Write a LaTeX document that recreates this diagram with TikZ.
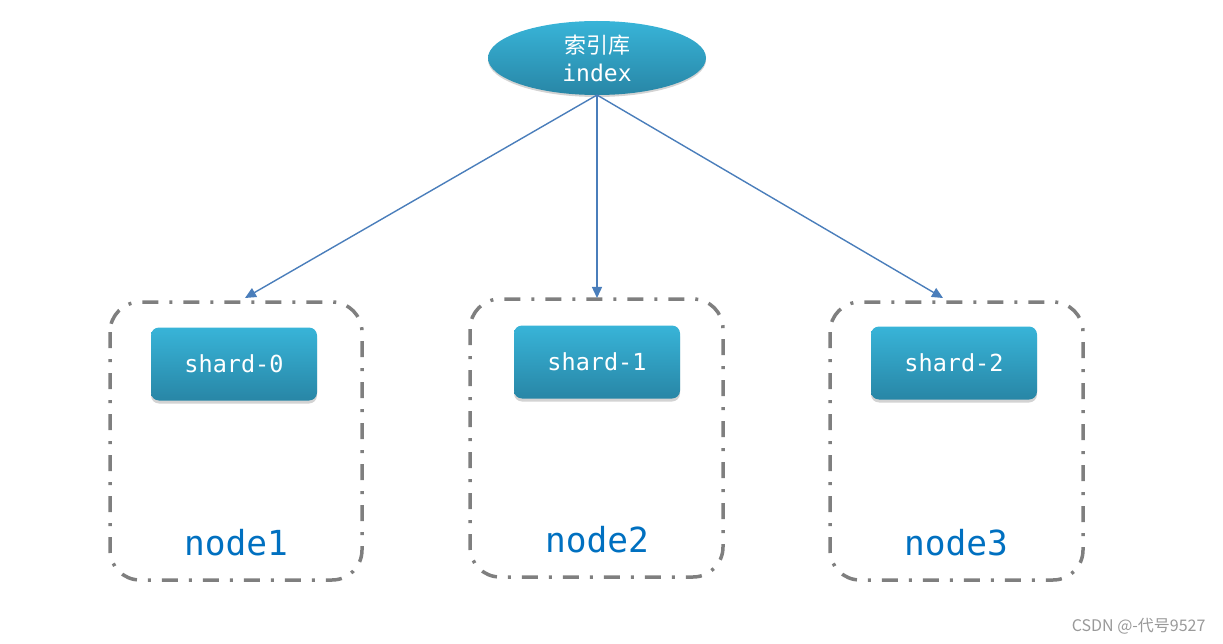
\documentclass[tikz,border=0pt]{standalone}
\usepackage{fontspec}
\newfontfamily\cjk{Noto Sans CJK SC}
\newfontfamily\monof{DejaVu Sans Mono}
\usetikzlibrary{shapes.geometric,shadows,arrows.meta}
\definecolor{arrowblue}{HTML}{4A7EBB}
\definecolor{boxgray}{HTML}{7F7F7F}
\definecolor{toptl}{HTML}{38B4D8}
\definecolor{bottl}{HTML}{2886A6}
\definecolor{labelblue}{HTML}{0070C0}
\tikzset{
  idx/.style={ellipse, minimum width=218pt, minimum height=74pt, inner sep=0pt,
    top color=toptl, bottom color=bottl, draw=none,
    drop shadow={shadow xshift=0pt, shadow yshift=-2pt, opacity=0.35},
    text=white, align=center, font=\fontsize{22}{28}\selectfont},
  shardbox/.style={rounded corners=8pt, minimum width=166pt, minimum height=73pt,
    top color=toptl, bottom color=bottl, draw=none,
    drop shadow={shadow xshift=0pt, shadow yshift=-3pt, opacity=0.35},
    text=white, font=\monof\fontsize{23.5}{26}\selectfont},
  nodebox/.style={draw=boxgray, line width=3.5pt, rounded corners=30pt,
    dash pattern=on 16pt off 11pt on 3pt off 11pt},
  conn/.style={draw=arrowblue, line width=1.4pt, -{Triangle[length=11pt,width=10pt]}},
  nlabel/.style={text=labelblue, font=\monof\fontsize{34.5}{38}\selectfont}
}
\begin{document}
\begin{tikzpicture}[x=1pt,y=-1pt]
\useasboundingbox (0,0) rectangle (1223,644);
\node[idx] (index) at (597,58) {\cjk 索引库\\\monof\fontsize{23}{28}\selectfont index};
% node boxes
\draw[nodebox] (110,302) rectangle (362,580);
\draw[nodebox] (470,299) rectangle (723,577);
\draw[nodebox] (830,302) rectangle (1083,580);
\coordinate (t1) at (245,298);
\coordinate (t2) at (597,298);
\coordinate (t3) at (943,298);
\node[shardbox] (s0) at (234,364) {shard-0};
\node[shardbox] (s1) at (597,362) {shard-1};
\node[shardbox] (s2) at (954,363) {shard-2};
\node[nlabel] (n1) at (236,543) {node1};
\node[nlabel] (n2) at (597,540) {node2};
\node[nlabel] (n3) at (956,543) {node3};
\coordinate (src) at (597,95);
\draw[conn] (src) -- (t1);
\draw[conn] (src) -- (t2);
\draw[conn] (src) -- (t3);
\node[text=gray!80, font=\cjk\fontsize{16}{18}\selectfont, anchor=east] (wm) at (1209,626) {CSDN @-代号9527};
\end{tikzpicture}
\end{document}
